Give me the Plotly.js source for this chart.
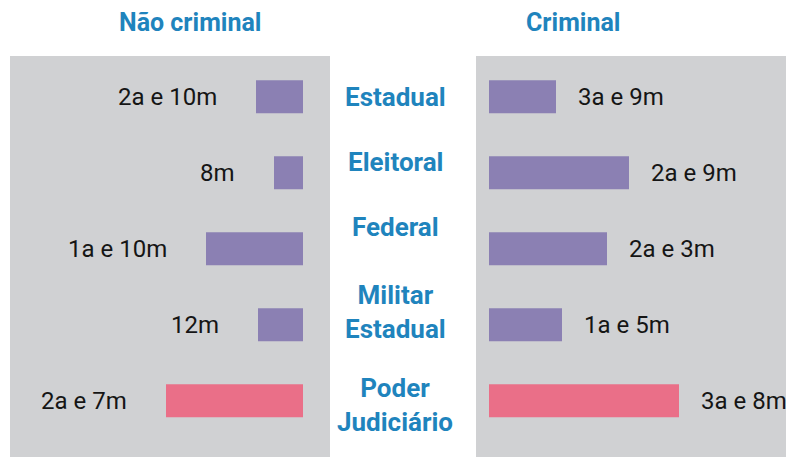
<!DOCTYPE html>
<html>
<head>
<meta charset="utf-8">
<script src="https://cdn.plot.ly/plotly-3.0.1.min.js"></script>
<style>html,body{margin:0;padding:0;background:#fff;}#chart{width:786px;height:457px;}</style>
</head>
<body>
<div id="chart"></div>
<script>
// Categories (tribunals) and the two panels
const categories = ["Estadual", "Eleitoral", "Federal", "Militar<br>Estadual", "Poder<br>Judiciário"];
const panelTitles = ["Não criminal", "Criminal"];

// Bar lengths as drawn in the picture (relative units)
const naoCriminalBars = [47, 29, 97, 45, 137];
const criminalBars = [67, 140, 118, 73, 190];

// Printed duration labels
const naoCriminalLabels = ["2a e 10m", "8m", "1a e 10m", "12m", "2a e 7m"];
const criminalLabels = ["3a e 9m", "2a e 9m", "2a e 3m", "1a e 5m", "3a e 8m"];

// Highlight flag (Poder Judiciário drawn in pink)
const highlighted = [false, false, false, false, true];

// ---- styling ----
const PURPLE = "#8b80b3", PINK = "#ea6f88", BLUE = "#1f84bd", GREY = "#d0d1d3";
const catLabelShift = [0, 11, 22, 13, -4]; // vertical nudge of the centre labels, px (as in the original layout)
const idx = categories.map((c, i) => i);
const colors = highlighted.map(h => h ? PINK : PURPLE);

const traces = [
  {type: "bar", orientation: "h", x: naoCriminalBars, y: idx, xaxis: "x", yaxis: "y",
   width: 0.435, marker: {color: colors}, hoverinfo: "skip"},
  {type: "bar", orientation: "h", x: criminalBars, y: idx, xaxis: "x2", yaxis: "y2",
   width: 0.435, marker: {color: colors}, hoverinfo: "skip"}
];

const valFont = {family: "Roboto, sans-serif", size: 24, color: "#151515"};
const annotations = [];
idx.forEach(i => {
  annotations.push({xref: "x", yref: "y", x: naoCriminalBars[i], y: i, text: naoCriminalLabels[i],
    showarrow: false, xanchor: "right", yanchor: "middle", xshift: -37, font: valFont});
  annotations.push({xref: "x2", yref: "y2", x: criminalBars[i], y: i, text: criminalLabels[i],
    showarrow: false, xanchor: "left", yanchor: "middle", xshift: 20, font: valFont});
  annotations.push({xref: "paper", yref: "y", x: 395/786, y: i, text: "<b>" + categories[i] + "</b>",
    showarrow: false, xanchor: "center", yanchor: "middle", yshift: catLabelShift[i],
    font: {family: "Roboto, sans-serif", size: 26, color: BLUE}});
});
const titleFont = {family: "Roboto, sans-serif", size: 25, color: BLUE};
annotations.push({xref: "paper", yref: "paper", x: 190/786, y: (457-23)/401, text: "<b>" + panelTitles[0] + "</b>",
  showarrow: false, xanchor: "center", yanchor: "middle", font: titleFont});
annotations.push({xref: "paper", yref: "paper", x: 573/786, y: (457-23)/401, text: "<b>" + panelTitles[1] + "</b>",
  showarrow: false, xanchor: "center", yanchor: "middle", font: titleFont});

const hidden = {showgrid: false, zeroline: false, showticklabels: false, ticks: "", showline: false, fixedrange: true};
const layout = {
  width: 786, height: 457,
  margin: {l: 0, r: 0, t: 56, b: 0, pad: 0},
  paper_bgcolor: "#ffffff", plot_bgcolor: GREY,
  showlegend: false,
  xaxis: Object.assign({}, hidden, {domain: [10/786, 330/786], range: [293, -27]}),
  yaxis: Object.assign({}, hidden, {domain: [0, 1], range: [4.741, -0.535]}),
  xaxis2: Object.assign({}, hidden, {domain: [476/786, 1], range: [-13, 297], anchor: "y2"}),
  yaxis2: Object.assign({}, hidden, {domain: [0, 1], range: [4.741, -0.535], anchor: "x2"}),
  annotations: annotations
};
Plotly.newPlot("chart", traces, layout, {staticPlot: true, displayModeBar: false});
</script>
</body>
</html>
